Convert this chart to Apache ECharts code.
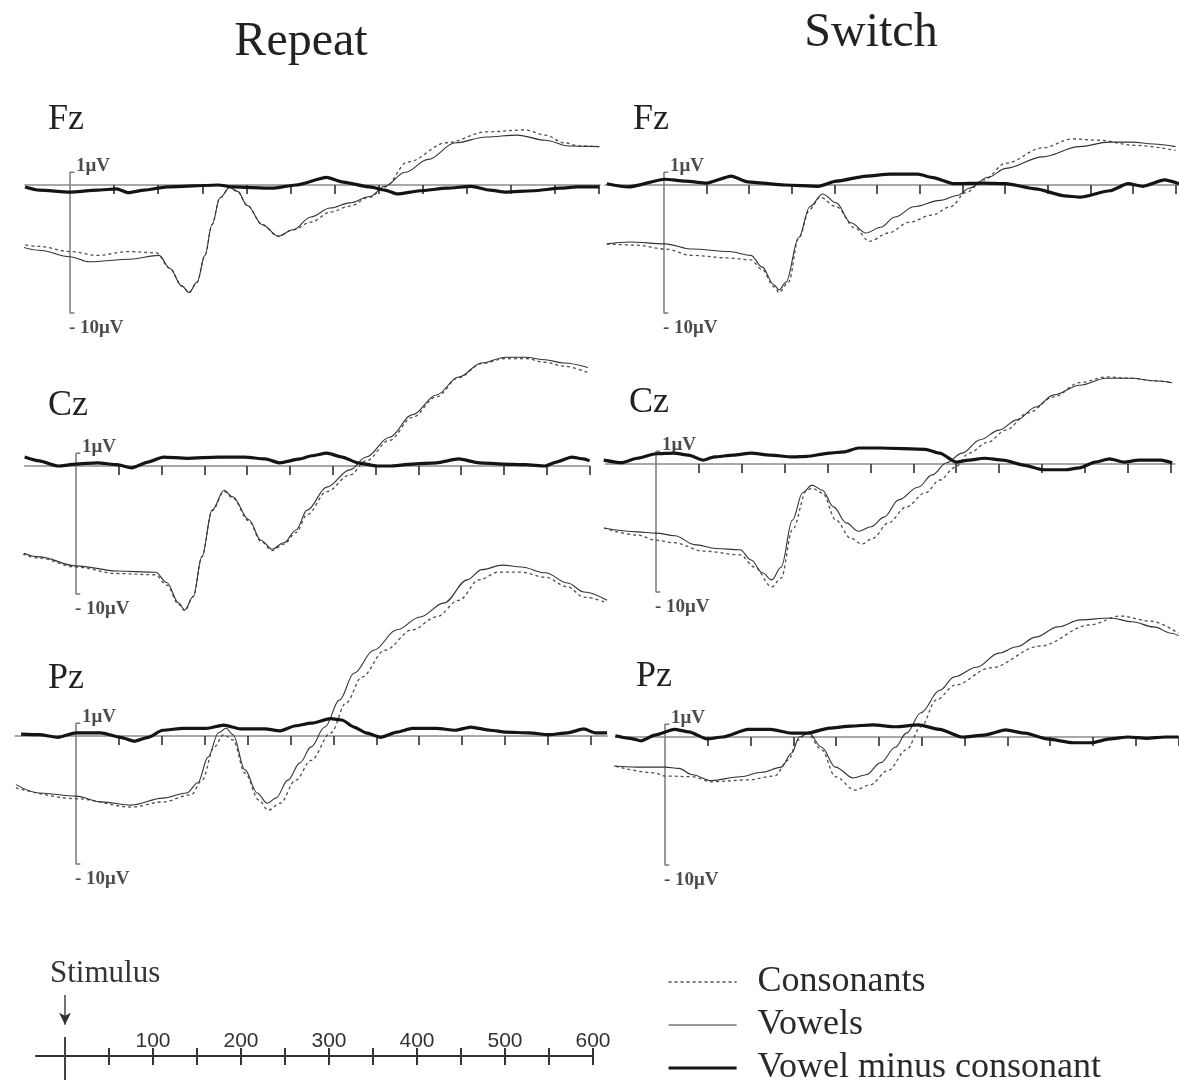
<!DOCTYPE html>
<html>
<head>
<meta charset="utf-8">
<script src="https://cdn.jsdelivr.net/npm/echarts@6/dist/echarts.min.js"></script>
<style>
html,body{margin:0;padding:0;background:#fff;}
#chart{width:1179px;height:1080px;}
</style>
</head>
<body>
<div id="chart"></div>
<script>
// ---------------- DATA (time in ms, amplitude in µV) ----------------
const conditions = ['Repeat', 'Switch'];
const channels = ['Fz', 'Cz', 'Pz'];
const seriesNames = ['Consonants', 'Vowels', 'Vowel minus consonant'];
const timeTicks = [50, 100, 150, 200, 250, 300, 350, 400, 450, 500, 550, 600];
const scaleTickLabels = [100, 200, 300, 400, 500, 600];
const scaleBarMicroV = [1, -10];
const scaleBarLabels = ['1μV', '- 10μV'];

const fzRepeatConsonants = [[-64,-4.5],[-35,-4.8],[0,-5.2],[31,-5.5],[66,-5.2],[98,-5.3],[113,-6.5],[127,-7.9],[135,-8.4],[144,-7.6],[153,-5.5],[161,-3.1],[170,-1.0],[181,-0.2],[190,-0.5],[201,-1.6],[218,-3.1],[236,-4.0],[253,-3.5],[273,-2.9],[296,-2.1],[317,-1.65],[340,-0.95],[357,-0.15],[383,1.8],[427,3.3],[472,4.15],[516,4.3],[539,3.9],[560,3.3],[578,3.05],[601,3.0]];
const fzRepeatVowels = [[-64,-4.6],[-35,-5.1],[0,-5.6],[22,-6.0],[68,-5.8],[101,-5.5],[113,-6.5],[127,-7.9],[135,-8.4],[144,-7.6],[153,-5.5],[161,-3.1],[170,-1.0],[181,-0.2],[190,-0.5],[201,-1.6],[218,-3.1],[236,-4.0],[253,-3.5],[273,-2.5],[295,-1.8],[317,-1.4],[340,-0.9],[357,-0.1],[380,1.0],[406,2.0],[437,3.3],[472,3.75],[507,3.9],[539,3.5],[565,3.05],[600,3.0]];
const fzRepeatDiff = [[-51,-0.15],[-35,-0.4],[0,-0.55],[31,-0.4],[53,-0.3],[66,-0.6],[84,-0.4],[110,-0.15],[168,0],[185,-0.15],[229,-0.25],[256,0],[291,0.6],[308,0.25],[340,-0.15],[357,-0.4],[371,-0.7],[397,-0.45],[427,-0.25],[455,-0.1],[476,-0.4],[494,-0.55],[525,-0.45],[556,-0.25],[574,-0.15],[600,-0.15]];

const fzSwitchConsonants = [[-67,-4.6],[-32,-4.7],[1,-5.0],[33,-5.5],[76,-5.7],[102,-5.85],[115,-6.6],[129,-7.95],[135,-8.4],[146,-7.6],[158,-4.15],[171,-1.9],[183,-0.95],[202,-1.7],[224,-3.35],[241,-4.4],[263,-3.75],[288,-2.9],[314,-2.35],[336,-1.7],[354,-0.6],[375,0.4],[401,1.7],[444,2.9],[479,3.6],[509,3.5],[552,3.1],[600,2.7]];
const fzSwitchVowels = [[-67,-4.6],[-40,-4.45],[1,-4.6],[33,-5.0],[76,-5.2],[102,-5.5],[115,-6.4],[129,-7.8],[135,-8.2],[143,-7.6],[158,-4.1],[171,-1.7],[186,-0.7],[202,-1.4],[219,-2.95],[237,-3.75],[254,-3.3],[271,-2.5],[293,-1.7],[324,-1.2],[345,-0.8],[358,-0.25],[380,0.6],[401,1.3],[444,2.2],[487,3.0],[522,3.35],[549,3.35],[574,3.2],[600,3.0]];
const fzSwitchDiff = [[-67,0.1],[-42,-0.15],[1,0.45],[25,0.3],[50,0.15],[79,0.7],[98,0.25],[142,0],[181,-0.1],[202,0.3],[237,0.7],[265,0.85],[298,0.85],[314,0.6],[340,0.1],[375,0.15],[401,0.1],[436,-0.3],[470,-0.85],[488,-0.95],[523,-0.45],[544,0.1],[562,-0.1],[587,0.4],[604,0.1]];

const czRepeatConsonants = [[-75,-6.5],[-43,-7.2],[0,-7.9],[48,-8.4],[93,-8.5],[106,-9.3],[120,-10.8],[127,-11.3],[137,-10.2],[147,-7.1],[159,-3.5],[173,-2.0],[183,-2.5],[202,-4.3],[216,-5.9],[229,-6.6],[243,-6.1],[257,-5.2],[270,-3.8],[293,-2.0],[320,-0.7],[339,0.4],[366,2.0],[393,3.8],[421,5.4],[447,6.9],[474,8.0],[502,8.4],[525,8.4],[548,8.1],[570,7.8],[598,7.3]];
const czRepeatVowels = [[-75,-6.4],[-43,-7.1],[0,-7.8],[48,-8.2],[93,-8.3],[106,-9.1],[120,-10.7],[127,-11.25],[137,-10.2],[147,-7.1],[159,-3.45],[173,-1.9],[183,-2.4],[202,-4.2],[216,-5.8],[229,-6.5],[243,-6.0],[257,-5.0],[270,-3.45],[293,-1.65],[320,-0.3],[339,0.7],[366,2.25],[393,4.0],[421,5.55],[447,6.95],[474,8.05],[502,8.5],[525,8.5],[548,8.3],[570,8.05],[598,7.7]];
const czRepeatDiff = [[-60,0.7],[-43,0.4],[-21,0],[0,0.15],[25,0.25],[48,0.1],[65,-0.15],[84,0.3],[102,0.7],[130,0.6],[166,0.7],[197,0.7],[221,0.55],[238,0.25],[262,0.55],[275,0.8],[293,1.0],[311,0.7],[329,0.25],[352,0],[366,0],[393,0.15],[421,0.25],[447,0.55],[471,0.25],[498,0.15],[525,0.1],[548,0],[561,0.3],[579,0.7],[593,0.55],[600,0.4]];

const czSwitchConsonants = [[-61,-5.0],[-22,-5.55],[0,-5.95],[21,-6.15],[55,-6.8],[98,-7.1],[115,-8.05],[135,-9.6],[146,-8.9],[159,-5.15],[176,-2.05],[182,-1.9],[194,-2.25],[210,-4.4],[227,-5.8],[240,-6.25],[253,-5.8],[271,-4.6],[292,-3.35],[314,-2.25],[331,-1.25],[349,-0.25],[365,0.85],[387,1.7],[408,2.65],[434,4.0],[464,5.25],[494,6.35],[525,6.8],[555,6.7],[581,6.5],[602,6.35]];
const czSwitchVowels = [[-61,-5.0],[-22,-5.3],[0,-5.4],[22,-5.6],[45,-6.3],[70,-6.6],[98,-6.7],[111,-7.5],[124,-8.5],[135,-9.05],[146,-8.05],[159,-4.4],[171,-2.25],[182,-1.65],[194,-2.05],[207,-3.35],[222,-4.6],[236,-5.25],[251,-4.9],[266,-4.15],[283,-2.8],[306,-1.8],[322,-0.85],[339,0.1],[357,0.85],[378,1.9],[400,2.65],[421,3.45],[443,4.45],[464,5.4],[494,6.15],[525,6.7],[555,6.7],[581,6.5],[602,6.35]];
const czSwitchDiff = [[-61,0.3],[-40,0.1],[-22,0.45],[0,0.8],[21,0.85],[38,0.7],[55,0.3],[68,0.55],[90,0.7],[111,0.85],[133,0.7],[159,0.55],[176,0.6],[202,0.85],[219,0.95],[236,1.25],[262,1.25],[314,1.15],[331,0.85],[350,0.15],[365,0.3],[383,0.45],[405,0.3],[430,-0.1],[451,-0.45],[477,-0.45],[494,-0.3],[512,0.15],[529,0.4],[546,0.15],[563,0.3],[589,0.3],[602,0.1]];

const pzRepeatConsonants = [[-70,-4.05],[0,-4.9],[65,-5.55],[101,-5.15],[134,-4.6],[147,-3.45],[161,-0.85],[172,0.1],[183,-0.3],[197,-2.9],[213,-5.0],[224,-5.8],[238,-5.25],[256,-3.45],[274,-1.9],[297,0.25],[315,2.6],[333,4.6],[360,6.7],[392,8.3],[420,9.3],[446,10.6],[470,12.2],[492,12.8],[519,12.8],[547,12.4],[573,11.65],[592,10.85],[619,10.4]];
const pzRepeatVowels = [[-70,-3.8],[-43,-4.45],[0,-4.7],[29,-5.15],[65,-5.4],[101,-4.85],[129,-4.45],[142,-3.65],[154,-1.65],[166,0.25],[175,0.6],[183,0.1],[197,-2.65],[211,-4.45],[223,-5.25],[233,-4.85],[247,-3.45],[261,-2.1],[274,-0.85],[290,0.7],[307,2.8],[324,4.9],[347,6.7],[374,8.3],[401,9.3],[429,10.4],[456,12.2],[473,13.0],[497,13.35],[519,13.2],[547,12.75],[573,11.95],[592,11.25],[619,10.6]];
const pzRepeatDiff = [[-64,0.15],[-43,0.1],[-21,-0.1],[0,0.25],[29,0.25],[52,-0.1],[68,-0.4],[84,-0.1],[101,0.45],[125,0.6],[152,0.6],[172,0.85],[192,0.55],[220,0.55],[238,0.4],[256,0.8],[274,1.0],[297,1.35],[310,1.25],[324,0.7],[338,0.25],[355,-0.1],[374,0.3],[392,0.6],[420,0.6],[442,0.45],[460,0.7],[483,0.45],[501,0.3],[528,0.25],[551,0.1],[573,0.25],[592,0.55],[605,0.25],[619,0.25]];

const pzSwitchConsonants = [[-71,-2.05],[-12,-2.8],[0,-3.05],[32,-3.1],[54,-3.5],[97,-3.35],[128,-3.05],[144,-1.8],[155,-0.25],[166,0.3],[183,-1.0],[199,-3.1],[222,-4.15],[239,-3.75],[261,-2.6],[282,-1.0],[299,0.8],[317,2.9],[339,4.05],[380,5.4],[438,7.1],[496,8.75],[532,9.45],[567,9.05],[600,8.1]];
const pzSwitchVowels = [[-71,-2.2],[-33,-2.35],[0,-2.35],[16,-2.45],[32,-2.95],[54,-3.4],[88,-3.1],[113,-2.75],[136,-2.35],[148,-1.25],[157,0],[168,0.3],[183,-0.8],[199,-2.35],[220,-3.2],[235,-2.95],[252,-2.0],[269,-0.8],[282,0.3],[299,1.9],[321,3.65],[338,4.7],[364,5.45],[390,6.55],[411,7.05],[433,7.8],[459,8.6],[485,9.15],[520,9.3],[546,9.0],[571,8.6],[592,8.1],[600,7.9]];
const pzSwitchDiff = [[-58,0.1],[-41,-0.1],[-28,-0.3],[-12,0.15],[11,0.6],[28,0.4],[49,-0.15],[67,0],[97,0.6],[123,0.6],[148,0.3],[166,0.3],[192,0.7],[217,0.85],[243,0.95],[269,0.8],[296,0.95],[321,0.6],[347,0],[373,0.15],[398,0.55],[421,0.3],[446,-0.15],[477,-0.45],[498,-0.45],[520,-0.15],[541,0],[563,-0.1],[584,0],[600,0]];

// ---------------- LAYOUT (pixels / styles) ----------------
const LAYOUT = {
  pxPerUV: 12.8, yMin: -12, yMax: 14, scaleFootMs: 5,
  panels: [
    {stimX:70,  pxPerMs:0.882,  baseY:185, tStart:-51, tEnd:601, labelX:48,  labelY:120},
    {stimX:664, pxPerMs:0.853,  baseY:185, tStart:-69, tEnd:604, labelX:633, labelY:120},
    {stimX:76,  pxPerMs:0.856,  baseY:466, tStart:-60, tEnd:600, labelX:48,  labelY:406},
    {stimX:656, pxPerMs:0.8575, baseY:464, tStart:-59, tEnd:605, labelX:629, labelY:403},
    {stimX:76,  pxPerMs:0.858,  baseY:736, tStart:-71, tEnd:619, labelX:48,  labelY:679},
    {stimX:665, pxPerMs:0.856,  baseY:737, tStart:-58, tEnd:600, labelX:636, labelY:677}
  ],
  bottom: {stimX:65, pxPerMs:0.88, tStart:-33, tEnd:600, axisY:1056, height:56,
           arrowFrom:1.09, arrowTo:0.56, stimTickTop:0.34, stimTickBottom:-0.55}
};
const SERIF = '"Liberation Serif","Times New Roman",serif';

const panelData = [
  [fzRepeatConsonants, fzRepeatVowels, fzRepeatDiff],
  [fzSwitchConsonants, fzSwitchVowels, fzSwitchDiff],
  [czRepeatConsonants, czRepeatVowels, czRepeatDiff],
  [czSwitchConsonants, czSwitchVowels, czSwitchDiff],
  [pzRepeatConsonants, pzRepeatVowels, pzRepeatDiff],
  [pzSwitchConsonants, pzSwitchVowels, pzSwitchDiff]
];

const lineStyles = [
  {color:'#4d4d4d', width:1.3, type:[3,3]},
  {color:'#333333', width:1.1, type:'solid'},
  {color:'#141414', width:3.2, type:'solid'}
];

const grids = [], xAxes = [], yAxes = [], series = [], graphics = [];

LAYOUT.panels.forEach((p, i) => {
  const h = (LAYOUT.yMax - LAYOUT.yMin) * LAYOUT.pxPerUV;
  grids.push({
    left: p.stimX + p.tStart * p.pxPerMs,
    width: (p.tEnd - p.tStart) * p.pxPerMs,
    top: p.baseY - LAYOUT.yMax * LAYOUT.pxPerUV,
    height: h, containLabel: false
  });
  xAxes.push({
    gridIndex: i, type: 'value', min: p.tStart, max: p.tEnd,
    axisLine: {show: true, onZero: true, lineStyle: {color: '#8c8c8c', width: 1.5}},
    axisTick: {show: true, customValues: timeTicks, length: 9, lineStyle: {color: '#3a3a3a', width: 1.7}},
    axisLabel: {show: false}, splitLine: {show: false}
  });
  yAxes.push({gridIndex: i, type: 'value', min: LAYOUT.yMin, max: LAYOUT.yMax, show: false});

  // scale bar
  series.push({
    type: 'line', xAxisIndex: i, yAxisIndex: i, silent: true, symbol: 'none', clip: false, z: 2,
    lineStyle: {color: '#7a7a7a', width: 1.5},
    data: [[LAYOUT.scaleFootMs, scaleBarMicroV[0]], [0, scaleBarMicroV[0]], [0, scaleBarMicroV[1]], [LAYOUT.scaleFootMs, scaleBarMicroV[1]]]
  });
  series.push({
    type: 'scatter', xAxisIndex: i, yAxisIndex: i, silent: true, symbolSize: 0, clip: false, z: 6,
    label: {show: true, fontFamily: SERIF, fontWeight: 'bold', fontSize: 19, color: '#1e1e1e'},
    data: [
      {value: [0, scaleBarMicroV[0]], label: {formatter: scaleBarLabels[0], position: [6, -6], align: 'left', verticalAlign: 'middle'}},
      {value: [0, scaleBarMicroV[1]], label: {formatter: scaleBarLabels[1], position: [-1, 15], align: 'left', verticalAlign: 'middle'}}
    ]
  });
  panelData[i].forEach((d, k) => {
    series.push({
      name: seriesNames[k], type: 'line', xAxisIndex: i, yAxisIndex: i,
      data: d, symbol: 'none', smooth: k === 2 ? 0.2 : 0.35, smoothMonotone: 'x',
      clip: false, silent: true, z: 3 + k,
      lineStyle: lineStyles[k], itemStyle: {color: lineStyles[k].color}
    });
  });

  graphics.push({
    type: 'text', x: p.labelX, y: p.labelY, silent: true,
    style: {text: channels[Math.floor(i / 2)], font: '36px ' + SERIF, fill: '#222', align: 'left', verticalAlign: 'middle'}
  });
});

// bottom time scale
const b = LAYOUT.bottom;
const bi = grids.length;
grids.push({left: b.stimX + b.tStart * b.pxPerMs, width: (b.tEnd - b.tStart) * b.pxPerMs,
            top: b.axisY - b.height, height: b.height, containLabel: false});
xAxes.push({
  gridIndex: bi, type: 'value', min: b.tStart, max: b.tEnd, position: 'bottom',
  axisLine: {show: true, onZero: true, lineStyle: {color: '#333', width: 2}},
  axisTick: {show: true, customValues: timeTicks, length: 9, lineStyle: {color: '#333', width: 2}},
  axisLabel: {show: true, customValues: scaleTickLabels, inside: true, margin: 4,
              fontFamily: '"Liberation Sans",Arial,sans-serif', fontSize: 21, color: '#333'},
  splitLine: {show: false}
});
xAxes.push({
  gridIndex: bi, type: 'value', min: b.tStart, max: b.tEnd, position: 'bottom',
  axisLine: {show: false, onZero: true},
  axisTick: {show: true, inside: true, customValues: timeTicks, length: 8, lineStyle: {color: '#333', width: 2}},
  axisLabel: {show: false}, splitLine: {show: false}
});
yAxes.push({gridIndex: bi, type: 'value', min: 0, max: 1, show: false});
series.push({
  type: 'line', xAxisIndex: bi, yAxisIndex: bi, silent: true, symbol: 'none', clip: false,
  lineStyle: {color: '#444', width: 2},
  data: [[0, b.stimTickTop], [0, b.stimTickBottom]]
});
series.push({
  type: 'line', xAxisIndex: bi, yAxisIndex: bi, silent: true, clip: false,
  lineStyle: {color: '#444', width: 1.5}, itemStyle: {color: '#333'},
  data: [
    {value: [0, b.arrowFrom], symbol: 'none'},
    {value: [0, b.arrowTo], symbol: 'arrow', symbolSize: [9, 12], symbolRotate: 180}
  ]
});

graphics.push({type: 'text', x: 301, y: 42, silent: true,
  style: {text: conditions[0], font: '48px ' + SERIF, fill: '#222', align: 'center', verticalAlign: 'middle'}});
graphics.push({type: 'text', x: 871, y: 33, silent: true,
  style: {text: conditions[1], font: '48px ' + SERIF, fill: '#222', align: 'center', verticalAlign: 'middle'}});
graphics.push({type: 'text', x: 50, y: 974, silent: true,
  style: {text: 'Stimulus', font: '31px ' + SERIF, fill: '#333', align: 'left', verticalAlign: 'middle'}});

const chart = echarts.init(document.getElementById('chart'), null, {renderer: 'canvas'});
chart.setOption({
  animation: false,
  backgroundColor: '#ffffff',
  grid: grids, xAxis: xAxes, yAxis: yAxes, series: series,
  graphic: graphics,
  legend: {
    orient: 'vertical', left: 667, top: 964, height: 160, padding: 0,
    itemWidth: 68, itemHeight: 14, itemGap: 7,
    selectedMode: false,
    textStyle: {fontFamily: SERIF, fontSize: 36, color: '#2a2a2a', lineHeight: 36, padding: [0, 0, 0, 16]},
    data: seriesNames.map((n, k) => ({
      name: n,
      itemStyle: {color: 'rgba(0,0,0,0)', borderWidth: 0, opacity: 0},
      lineStyle: {color: lineStyles[k].color, width: lineStyles[k].width, type: lineStyles[k].type, opacity: 1}
    }))
  }
});
</script>
</body>
</html>
